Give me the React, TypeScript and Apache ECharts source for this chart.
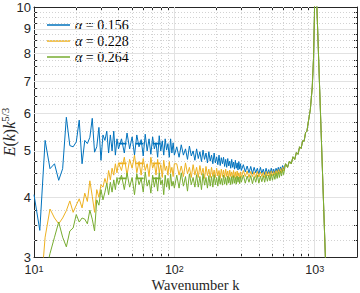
import React, { useEffect, useRef } from 'react';
import * as echarts from 'echarts';

// Wavenumbers (x positions of the samples)
const K_LOW = [10, 11, 12, 13, 14, 15, 16, 17, 18, 19, 20, 21, 22, 23, 24, 25, 26, 27, 28, 29, 30, 31, 32, 33, 34, 35, 36, 37, 38, 39, 40];
const K_MID = [42, 44, 46, 48, 50, 52, 54, 56, 58, 60, 62, 64, 66, 68, 70, 72, 74, 76, 78, 80, 82, 84, 86, 88, 90, 92, 94, 96, 98, 100];
const K_HIGH = [104, 108, 112, 116, 120, 124, 128, 132, 136, 140, 144, 148, 152, 156, 160, 164, 168, 172, 176, 180, 184, 188, 192, 196, 200, 204, 208, 212, 216, 220, 224, 228, 232, 236, 240, 244, 248, 252, 256, 260, 264, 268, 272, 276, 280, 284, 288, 292, 296, 300];
const K_UPPER = [310, 320, 330, 340, 350, 360, 370, 380, 390, 400, 410, 420, 430, 440, 450, 460, 470, 480, 490, 500, 510, 520, 530, 540, 550, 560, 570, 580, 590, 600];
const K_TAIL = [620, 640, 660, 680, 700, 720, 740, 760, 780, 800, 820, 840, 860, 880, 900, 930, 960, 980, 995, 1005, 1200];

// alpha = 0.156
const BLUE_LOW = [4.05, 3.41, 5.26, 4.59, 4.7, 4.34, 4.59, 5.88, 5.13, 5.1, 5.22, 5.8, 4.7, 5.26, 5.18, 5.34, 5.85, 4.97, 5.1, 5.6, 4.78, 5.4, 5.26, 5.5, 4.95, 5.4, 5.0, 5.5, 4.9, 5.3, 5.05];
const BLUE_MID = [5.3, 4.95, 5.45, 5.05, 5.35, 4.9, 5.4, 5.1, 5.28, 4.88, 5.42, 5.0, 5.3, 4.92, 5.35, 5.05, 5.2, 4.85, 5.38, 5.0, 5.25, 4.9, 5.3, 5.02, 5.18, 4.85, 5.3, 4.95, 5.2, 4.9];
const BLUE_HIGH = [5.1, 4.85, 5.15, 4.9, 5.05, 4.8, 5.12, 4.88, 5.0, 4.78, 5.05, 4.82, 4.98, 4.75, 5.02, 4.8, 4.95, 4.72, 4.98, 4.76, 4.9, 4.7, 4.95, 4.72, 4.86, 4.68, 4.9, 4.66, 4.84, 4.7, 4.85, 4.64, 4.8, 4.62, 4.82, 4.65, 4.76, 4.6, 4.8, 4.62, 4.74, 4.58, 4.78, 4.6, 4.72, 4.56, 4.75, 4.58, 4.7, 4.55];
const BLUE_UPPER = [4.68, 4.52, 4.65, 4.5, 4.64, 4.48, 4.62, 4.5, 4.6, 4.47, 4.62, 4.49, 4.58, 4.46, 4.6, 4.48, 4.57, 4.47, 4.6, 4.5, 4.58, 4.49, 4.6, 4.52, 4.62, 4.53, 4.63, 4.55, 4.66, 4.58];

// alpha = 0.228
const ORANGE_LOW = [2.3, 2.4, 3.3, 3.78, 3.62, 3.52, 3.62, 3.75, 3.93, 3.72, 3.85, 3.97, 3.8, 4.08, 3.92, 4.33, 4.02, 3.72, 4.15, 4.0, 4.25, 4.2, 4.38, 4.25, 4.55, 4.35, 4.6, 4.45, 4.7, 4.5, 4.72];
const ORANGE_MID = [4.55, 4.85, 4.45, 4.8, 4.6, 4.9, 4.5, 4.75, 4.45, 4.82, 4.55, 4.7, 4.42, 4.85, 4.6, 4.72, 4.45, 4.8, 4.5, 4.68, 4.4, 4.78, 4.55, 4.65, 4.45, 4.75, 4.5, 4.62, 4.42, 4.7];
const ORANGE_HIGH = [4.7, 4.45, 4.65, 4.42, 4.72, 4.48, 4.62, 4.4, 4.68, 4.45, 4.62, 4.4, 4.66, 4.45, 4.6, 4.38, 4.64, 4.44, 4.58, 4.4, 4.62, 4.42, 4.56, 4.4, 4.6, 4.43, 4.55, 4.38, 4.58, 4.42, 4.56, 4.4, 4.58, 4.42, 4.54, 4.38, 4.56, 4.42, 4.52, 4.4, 4.55, 4.4, 4.52, 4.38, 4.54, 4.42, 4.5, 4.38, 4.52, 4.4];
const ORANGE_UPPER = [4.55, 4.42, 4.54, 4.4, 4.53, 4.42, 4.52, 4.4, 4.53, 4.41, 4.52, 4.42, 4.51, 4.4, 4.53, 4.43, 4.52, 4.42, 4.54, 4.44, 4.53, 4.45, 4.55, 4.46, 4.57, 4.48, 4.59, 4.5, 4.62, 4.54];

// alpha = 0.264
const GREEN_LOW = [2.4, 2.5, 2.75, 3.05, 3.3, 3.55, 3.3, 3.15, 3.4, 3.45, 3.68, 3.55, 3.62, 3.6, 3.52, 3.76, 3.6, 3.4, 3.95, 3.85, 4.15, 3.95, 4.1, 4.28, 4.05, 4.3, 4.1, 4.35, 4.15, 4.4, 4.25];
const GREEN_MID = [4.45, 4.15, 4.5, 4.2, 4.4, 4.05, 4.48, 4.25, 4.38, 4.1, 4.52, 4.22, 4.35, 4.08, 4.45, 4.2, 4.4, 4.12, 4.5, 4.25, 4.35, 4.05, 4.45, 4.2, 4.38, 4.15, 4.48, 4.22, 4.32, 4.18];
const GREEN_HIGH = [4.45, 4.18, 4.5, 4.22, 4.42, 4.12, 4.48, 4.25, 4.4, 4.2, 4.46, 4.2, 4.42, 4.15, 4.48, 4.24, 4.4, 4.18, 4.44, 4.22, 4.42, 4.2, 4.46, 4.25, 4.4, 4.22, 4.44, 4.26, 4.38, 4.24, 4.45, 4.26, 4.4, 4.24, 4.43, 4.28, 4.4, 4.25, 4.42, 4.27, 4.44, 4.28, 4.4, 4.26, 4.43, 4.3, 4.41, 4.27, 4.42, 4.3];
const GREEN_UPPER = [4.45, 4.28, 4.43, 4.3, 4.44, 4.27, 4.42, 4.3, 4.45, 4.28, 4.43, 4.31, 4.44, 4.3, 4.46, 4.32, 4.45, 4.33, 4.47, 4.34, 4.48, 4.36, 4.5, 4.38, 4.52, 4.4, 4.54, 4.43, 4.57, 4.46];

// common bottleneck / spike part (all three curves coincide)
const TAIL = [4.7, 4.62, 4.76, 4.7, 4.86, 4.8, 4.96, 4.92, 5.1, 5.06, 5.25, 5.24, 5.46, 5.5, 5.75, 6.1, 6.8, 7.8, 9.6, 13, 2.8];

// plateau reference levels (dashed)
const DASH_K = [40, 85];
const DASH_LEVELS = [5.18, 4.71, 4.38];

const NAMES = ['α = 0.156', 'α = 0.228', 'α = 0.264'];
const COLORS = ['#0072BD', '#EDB120', '#77AC30'];

const X_LABELS = [10, 100, 1000];
const X_TICKS = [20, 30, 40, 50, 60, 70, 80, 90, 100, 200, 300, 400, 500, 600, 700, 800, 900, 1000];
const X_MAJOR_GRID = [100, 1000];
const X_MINOR_GRID = [20, 30, 40, 50, 60, 70, 80, 90, 200, 300, 400, 500, 600, 700, 800, 900];
const Y_LABELS = [3, 4, 5, 6, 7, 8, 9, 10];
const Y_MAJOR_GRID = [4, 5, 6, 7, 8, 9];
const Y_MINOR_GRID = [3.25, 3.5, 3.75, 4.25, 4.5, 4.75, 5.25, 5.5, 5.75, 6.25, 6.5, 6.75, 7.25, 7.5, 7.75, 8.25, 8.5, 8.75, 9.25, 9.5, 9.75];
const Y_TICKS = [...Y_MAJOR_GRID, ...Y_MINOR_GRID];

const K_ALL = [...K_LOW, ...K_MID, ...K_HIGH, ...K_UPPER, ...K_TAIL];
const SERIES_VALUES = [
  [...BLUE_LOW, ...BLUE_MID, ...BLUE_HIGH, ...BLUE_UPPER, ...TAIL],
  [...ORANGE_LOW, ...ORANGE_MID, ...ORANGE_HIGH, ...ORANGE_UPPER, ...TAIL],
  [...GREEN_LOW, ...GREEN_MID, ...GREEN_HIGH, ...GREEN_UPPER, ...TAIL],
];

const AXIS_COLOR = '#262626';
const SERIF = "'Liberation Serif', 'DejaVu Serif', serif";
const SANS = "'Liberation Sans', Arial, Helvetica, sans-serif";

export default function App() {
  const ref = useRef<HTMLDivElement>(null);

  useEffect(() => {
    if (!ref.current) return;
    const chart = echarts.init(ref.current, null, { renderer: 'svg' });

    const gridLines: any[] = [
      ...X_MAJOR_GRID.map((v) => ({ xAxis: v, lineStyle: { color: '#e2e2e2', type: 'solid', width: 1 } })),
      ...X_MINOR_GRID.map((v) => ({ xAxis: v, lineStyle: { color: '#d2d2d2', type: [1, 2], width: 1 } })),
      ...Y_MAJOR_GRID.map((v) => ({ yAxis: v, lineStyle: { color: '#e2e2e2', type: 'solid', width: 1 } })),
      ...Y_MINOR_GRID.map((v) => ({ yAxis: v, lineStyle: { color: '#d2d2d2', type: [1, 2], width: 1 } })),
    ];

    const mainSeries = SERIES_VALUES.map((vals, i) => ({
      name: NAMES[i],
      type: 'line',
      data: K_ALL.map((k, j) => [k, vals[j]]),
      showSymbol: false,
      symbol: 'none',
      clip: true,
      z: 10 + i,
      lineStyle: { color: COLORS[i], width: 1 },
      itemStyle: { color: COLORS[i] },
      emphasis: { disabled: true },
      ...(i === 0
        ? {
            markLine: {
              silent: true,
              symbol: 'none',
              animation: false,
              label: { show: false },
              emphasis: { disabled: true },
              data: gridLines,
            },
          }
        : {}),
    }));

    const dashSeries = DASH_LEVELS.map((lvl, i) => ({
      type: 'line',
      data: DASH_K.map((k) => [k, lvl]),
      showSymbol: false,
      symbol: 'none',
      z: 20,
      lineStyle: { color: COLORS[i], width: 1.6, type: [8, 9] },
      emphasis: { disabled: true },
    }));

    const xLabelFormatter = (v: number) => `{b|10}{s|${Math.round(Math.log10(v))}}`;

    chart.setOption({
      animation: false,
      grid: { left: 34, right: 3, top: 7, bottom: 36, containLabel: false, outerBoundsMode: 'none' },
      legend: {
        show: true,
        orient: 'vertical',
        left: 47,
        top: 18,
        padding: 0,
        icon: 'rect',
        itemWidth: 23,
        itemHeight: 1.5,
        itemGap: 2,
        selectedMode: false,
        data: NAMES,
        formatter: (name: string) => `{a|α}{t|${name.slice(1)}}`,
        textStyle: {
          lineHeight: 14,
          rich: {
            a: { fontFamily: SERIF, fontStyle: 'italic', fontSize: 14, lineHeight: 14, color: '#000' },
            t: { fontFamily: SERIF, fontSize: 14, lineHeight: 14, color: '#000' },
          },
        },
      },
      xAxis: [
        {
          type: 'log',
          logBase: 10,
          min: 10,
          max: 2000,
          position: 'bottom',
          axisLine: { show: true, onZero: false, lineStyle: { color: AXIS_COLOR, width: 1 } },
          axisTick: { show: true, inside: true, length: 3, customValues: X_TICKS, lineStyle: { color: AXIS_COLOR } },
          axisLabel: {
            customValues: X_LABELS,
            formatter: xLabelFormatter,
            margin: 7,
            rich: {
              b: { fontFamily: SANS, fontSize: 12.5, color: AXIS_COLOR, lineHeight: 12, verticalAlign: 'bottom' },
              s: { fontFamily: SANS, fontSize: 9, color: AXIS_COLOR, lineHeight: 9, verticalAlign: 'top' },
            },
          },
          splitLine: { show: false },
          minorTick: { show: false },
          minorSplitLine: { show: false },
          name: 'Wavenumber k',
          nameLocation: 'middle',
          nameGap: 20,
          nameMoveOverlap: false,
          nameTextStyle: { fontFamily: SERIF, fontSize: 14.5, lineHeight: 15, color: AXIS_COLOR },
        },
        {
          type: 'log',
          logBase: 10,
          min: 10,
          max: 2000,
          position: 'top',
          axisLine: { show: true, onZero: false, lineStyle: { color: AXIS_COLOR, width: 1 } },
          axisTick: { show: true, inside: true, length: 3, customValues: X_TICKS, lineStyle: { color: AXIS_COLOR } },
          axisLabel: { show: false },
          splitLine: { show: false },
        },
      ],
      yAxis: [
        {
          type: 'log',
          logBase: 10,
          min: 3,
          max: 10,
          position: 'left',
          axisLine: { show: true, onZero: false, lineStyle: { color: AXIS_COLOR, width: 1 } },
          axisTick: { show: true, inside: true, length: 3, customValues: Y_TICKS, lineStyle: { color: AXIS_COLOR } },
          axisLabel: {
            customValues: Y_LABELS,
            formatter: (v: number) => String(Math.round(v)),
            margin: 3,
            fontFamily: SANS,
            fontSize: 13,
            lineHeight: 10,
            color: AXIS_COLOR,
          },
          splitLine: { show: false },
          minorTick: { show: false },
          minorSplitLine: { show: false },
          name: '{i|E}{r|(}{i|k}{r|)}{i|k}{s|5/3}',
          nameLocation: 'middle',
          nameRotate: 90,
          nameGap: 17,
          nameMoveOverlap: false,
          nameTextStyle: {
            rich: {
              i: { fontFamily: SERIF, fontStyle: 'italic', fontSize: 16, color: AXIS_COLOR, lineHeight: 18, verticalAlign: 'bottom' },
              r: { fontFamily: SERIF, fontSize: 16, color: AXIS_COLOR, lineHeight: 18, verticalAlign: 'bottom' },
              s: { fontFamily: SERIF, fontSize: 11, color: AXIS_COLOR, lineHeight: 11, verticalAlign: 'top' },
            },
          },
        },
        {
          type: 'log',
          logBase: 10,
          min: 3,
          max: 10,
          position: 'right',
          axisLine: { show: true, onZero: false, lineStyle: { color: AXIS_COLOR, width: 1 } },
          axisTick: { show: true, inside: true, length: 3, customValues: Y_TICKS, lineStyle: { color: AXIS_COLOR } },
          axisLabel: { show: false },
          splitLine: { show: false },
        },
      ],
      series: [...mainSeries, ...dashSeries],
    });

    return () => chart.dispose();
  }, []);

  return (
    <div
      ref={ref}
      style={{ position: 'fixed', left: 0, top: 0, width: 360, height: 293, background: '#fff' }}
    />
  );
}
